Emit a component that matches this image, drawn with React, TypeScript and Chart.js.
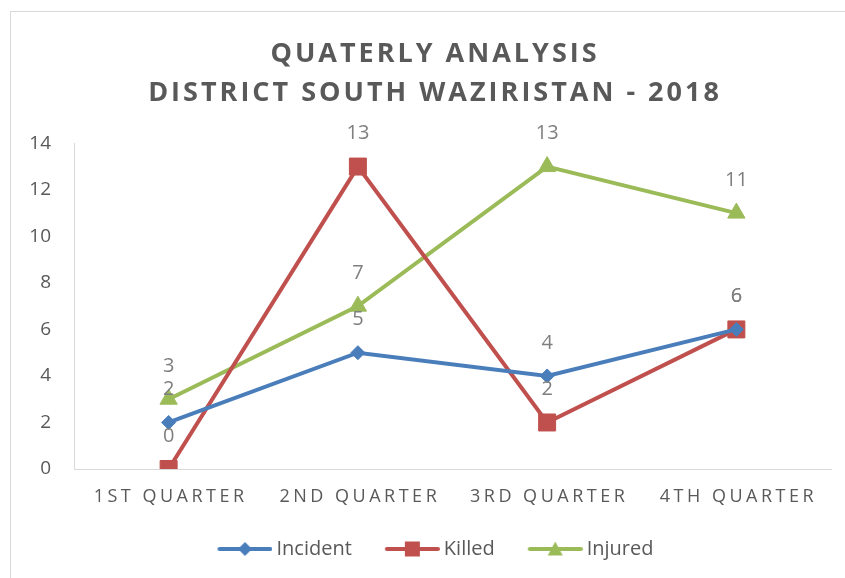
import React, { useEffect, useRef } from 'react';
import { Chart, registerables } from 'chart.js';

Chart.register(...registerables);

const categories = ['1ST QUARTER', '2ND QUARTER', '3RD QUARTER', '4TH QUARTER'];
const incident = [2, 5, 4, 6];
const killed = [0, 13, 2, 6];
const injured = [3, 7, 13, 11];
const seriesNames = ['Incident', 'Killed', 'Injured'];
const titleLines = ['QUATERLY ANALYSIS', 'DISTRICT SOUTH WAZIRISTAN - 2018'];
const yMin = 0;
const yMax = 14;
const yStep = 2;

const BLUE = '#4A7EBB';
const RED = '#C0504D';
const GREEN = '#9BBB59';
const TEXT = '#595959';
const LABEL = '#7F7F7F';
const AXIS = '#D9D9D9';
const FONT = '"Open Sans", "Noto Sans", sans-serif';

function legendIcon(color: string, shape: string): HTMLCanvasElement {
  const c = document.createElement('canvas');
  c.width = 72;
  c.height = 20;
  const g = c.getContext('2d')!;
  const cx = 44.5;
  g.strokeStyle = color;
  g.lineWidth = 4;
  g.lineCap = 'round';
  g.beginPath();
  g.moveTo(19, 10);
  g.lineTo(70, 10);
  g.stroke();
  g.fillStyle = color;
  g.beginPath();
  if (shape === 'diamond') {
    g.moveTo(cx, 3);
    g.lineTo(cx + 7, 10);
    g.lineTo(cx, 17);
    g.lineTo(cx - 7, 10);
  } else if (shape === 'square') {
    g.rect(cx - 7.5, 2.5, 15, 15);
  } else {
    g.moveTo(cx, 2.5);
    g.lineTo(cx + 7.5, 16.5);
    g.lineTo(cx - 7.5, 16.5);
  }
  g.closePath();
  g.fill();
  return c;
}

const borderPlugin = {
  id: 'outerBorder',
  beforeDraw(chart: any) {
    const ctx = chart.ctx;
    ctx.save();
    ctx.strokeStyle = AXIS;
    ctx.lineWidth = 1;
    ctx.strokeRect(10.5, 11.5, 1000, 1000);
    ctx.restore();
  },
};

const spacingPlugin = {
  id: 'letterSpacing',
  beforeDraw(chart: any) {
    const wrap = (obj: any, method: string, spacing: string, dx: number) => {
      if (!obj || obj.__spaced) return;
      const orig = obj[method];
      obj[method] = function (...args: any[]) {
        const ctx = chart.ctx;
        ctx.save();
        ctx.letterSpacing = spacing;
        if (dx) ctx.translate(dx, 0);
        orig.apply(this, args);
        ctx.restore();
      };
      obj.__spaced = true;
    };
    wrap(chart.titleBlock, 'draw', '3px', 5);
    wrap(chart.scales.x, 'drawLabels', '3.5px', 2);
  },
};

const valueLabelPlugin = {
  id: 'valueLabels',
  afterDatasetsDraw(chart: any) {
    const ctx = chart.ctx;
    ctx.save();
    ctx.font = `20px ${FONT}`;
    ctx.fillStyle = LABEL;
    ctx.textAlign = 'center';
    ctx.textBaseline = 'middle';
    chart.data.datasets.forEach((ds: any, di: number) => {
      const meta = chart.getDatasetMeta(di);
      meta.data.forEach((pt: any, i: number) => {
        ctx.fillText(String(ds.data[i]), pt.x, pt.y - 33);
      });
    });
    ctx.restore();
  },
};

export default function App() {
  const canvasRef = useRef<HTMLCanvasElement | null>(null);

  useEffect(() => {
    document.body.style.margin = '0';
    const canvas = canvasRef.current;
    if (!canvas) return;
    const icons = [
      legendIcon(BLUE, 'diamond'),
      legendIcon(RED, 'square'),
      legendIcon(GREEN, 'triangle'),
    ];
    const chart = new Chart(canvas, {
      type: 'line',
      data: {
        labels: categories,
        datasets: [
          {
            label: seriesNames[0],
            data: incident,
            borderColor: BLUE,
            backgroundColor: BLUE,
            borderWidth: 4,
            pointStyle: 'rectRot',
            pointRadius: 7,
            pointBorderWidth: 1,
            pointBorderColor: BLUE,
            pointBackgroundColor: BLUE,
            tension: 0,
          },
          {
            label: seriesNames[1],
            data: killed,
            borderColor: RED,
            backgroundColor: RED,
            borderWidth: 4,
            pointStyle: 'rect',
            pointRadius: 12,
            pointBorderWidth: 1,
            pointBorderColor: RED,
            pointBackgroundColor: RED,
            tension: 0,
          },
          {
            label: seriesNames[2],
            data: injured,
            borderColor: GREEN,
            backgroundColor: GREEN,
            borderWidth: 4,
            pointStyle: 'triangle',
            pointRadius: 10,
            pointBorderWidth: 1,
            pointBorderColor: GREEN,
            pointBackgroundColor: GREEN,
            tension: 0,
          },
        ],
      },
      options: {
        responsive: false,
        animation: false,
        layout: { padding: { top: 13, left: 29, right: 14, bottom: 9 } },
        plugins: {
          title: {
            display: true,
            text: titleLines,
            color: TEXT,
            font: { family: FONT, size: 27, weight: 'bold', lineHeight: 1.45 },
            padding: { top: 22, bottom: 30 },
          },
          legend: {
            position: 'bottom',
            labels: {
              usePointStyle: true,
              pointStyleWidth: 60,
              padding: 22,
              color: TEXT,
              font: { family: FONT, size: 20 },
              generateLabels: (ch: any) => {
                const items = (Chart.defaults.plugins.legend.labels as any).generateLabels(ch);
                items.forEach((it: any, i: number) => {
                  it.pointStyle = icons[i];
                  it.fontColor = TEXT;
                });
                return items;
              },
            },
          },
          tooltip: { enabled: false },
        },
        scales: {
          x: {
            offset: true,
            grid: { display: false, drawTicks: false },
            border: { display: true, color: AXIS, width: 1 },
            ticks: {
              color: TEXT,
              font: { family: FONT, size: 18 },
              padding: 17,
              maxRotation: 0,
              minRotation: 0,
              autoSkip: false,
            },
            afterFit: (s: any) => {
              s.height = 48;
            },
          },
          y: {
            min: yMin,
            max: yMax,
            grid: { display: false, drawTicks: false },
            border: { display: true, color: AXIS, width: 1 },
            ticks: {
              stepSize: yStep,
              color: TEXT,
              font: { family: FONT, size: 19 },
              padding: 23,
            },
            afterFit: (s: any) => {
              s.width = 45;
            },
          },
        },
      },
      plugins: [borderPlugin, spacingPlugin, valueLabelPlugin],
    } as any);
    return () => chart.destroy();
  }, []);

  return (
    <div style={{ width: 845, height: 578 }}>
      <canvas ref={canvasRef} width={845} height={578} style={{ display: 'block' }} />
    </div>
  );
}
